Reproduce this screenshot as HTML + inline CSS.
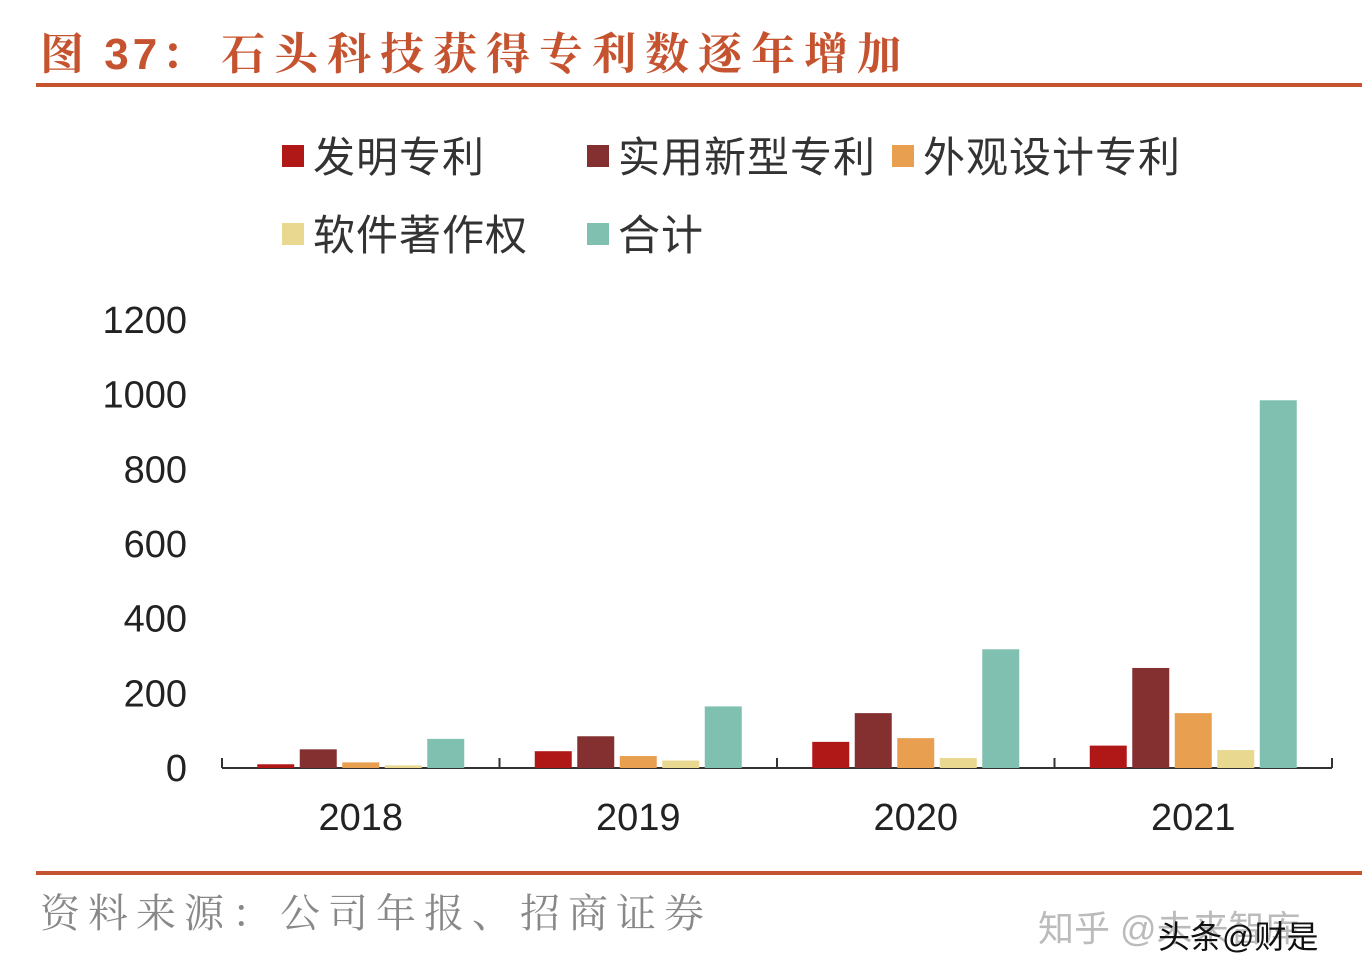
<!DOCTYPE html>
<html><head><meta charset="utf-8">
<style>
body{margin:0;width:1362px;height:978px;background:#fff;overflow:hidden;font-family:"Liberation Sans","Noto Sans CJK SC",sans-serif;}
.t{position:absolute;white-space:nowrap;}
</style></head><body>
<div class="t" style="left:40px;top:18px;font-size:44px;color:#c5532f;font-family:'Liberation Sans','Noto Serif CJK SC',serif;font-weight:bold;"><span style="letter-spacing:4px">图 37：</span><span style="letter-spacing:9px;margin-left:12px">石头科技获得专利数逐年增加</span></div>
<div style="position:absolute;left:36px;top:83px;width:1326px;height:4px;background:#c5532f"></div>
<div style="position:absolute;left:36px;top:871px;width:1326px;height:4px;background:#c5532f"></div>
<div class="t" style="left:40px;top:882px;font-size:40px;color:#888;letter-spacing:8px;font-family:'Liberation Serif','Noto Serif CJK SC',serif;">资料来源：公司年报、招商证券</div>
<div class="t" style="left:1038px;top:900px;font-size:36px;color:#bbb;">知乎 @未来智库</div>
<div class="t" style="left:1158px;top:912px;font-size:32px;color:#111;">头条@财是</div>
<svg id="c" width="1362" height="978" style="position:absolute;left:0;top:0"></svg>
<script>
const categories=["2018","2019","2020","2021"];
const seriesNames=["发明专利","实用新型专利","外观设计专利","软件著作权","合计"];
const colors=["#b01818","#843030","#e8a050","#e8d890","#80c0b0"];
const invention=[10,45,70,60];
const utility=[50,85,147,268];
const design=[15,32,80,147];
const software=[7,20,27,48];
const total=[78,165,318,985];
const yTicks=[0,200,400,600,800,1000,1200];
const series=[invention,utility,design,software,total];
const svg=document.getElementById('c');const NS='http://www.w3.org/2000/svg';
const x0=222,x1=1332,y0=768,yMax=1200,ph=448;
const y=v=>y0-v/yMax*ph;
const cw=(x1-x0)/categories.length;
function mk(t,a){const e=document.createElementNS(NS,t);for(const k in a)e.setAttribute(k,a[k]);svg.appendChild(e);return e;}
yTicks.forEach(v=>{const e=mk('text',{x:187,y:y(v)+13,'text-anchor':'end','font-size':38,fill:'#222'});e.textContent=v;

});
let ax=mk('line',{x1:x0,x2:x1,y1:y0,y2:y0,stroke:'#333','stroke-width':2});


for(let i=0;i<=categories.length;i++){let tk=mk('line',{x1:x0+i*cw,x2:x0+i*cw,y1:y0-10,y2:y0,stroke:'#333','stroke-width':2});

}
const bw=37,gap=5.5;
categories.forEach((c,i)=>{
 const gx=x0+i*cw+cw/2-(5*bw+4*gap)/2;
 series.forEach((s,j)=>{const r=mk('rect',{x:gx+j*(bw+gap),y:y(s[i]),width:bw,height:y0-y(s[i]),fill:colors[j]});
 
 });
 const t=mk('text',{x:x0+i*cw+cw/2,y:830,'text-anchor':'middle','font-size':38,fill:'#222'});t.textContent=c;
 
 
});
const lp=[[282,157],[587,157],[892,157],[282,235],[587,235]];
seriesNames.forEach((n,j)=>{const [lx,ly]=lp[j];
 const r=mk('rect',{x:lx,y:ly-12,width:22,height:22,fill:colors[j]});
 
 
 const t=mk('text',{x:lx+31,y:ly+15,'font-size':42,fill:'#333','letter-spacing':1});t.textContent=n;
 
 
});
</script>
</body></html>
